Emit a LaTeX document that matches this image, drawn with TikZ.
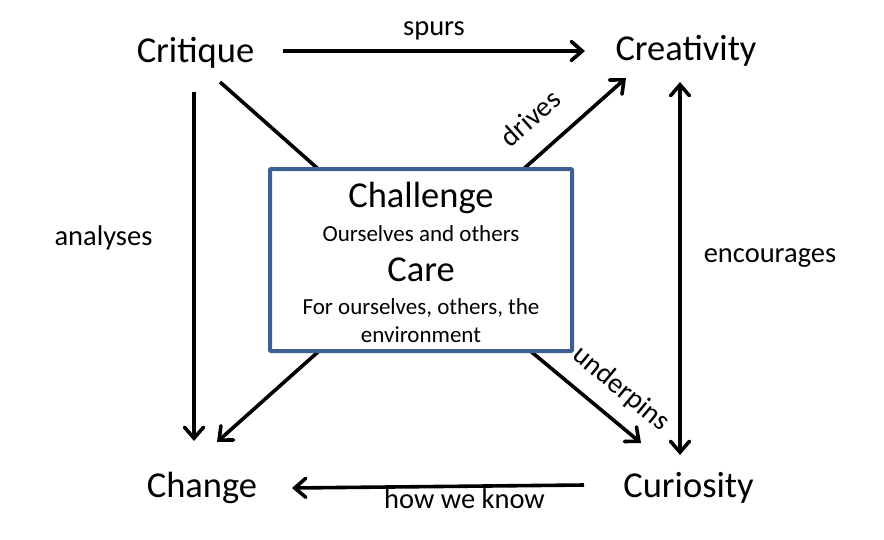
\documentclass[tikz,border=0pt]{standalone}
\usepackage{fontspec}
\setmainfont{Carlito}
\usepackage{xcolor}
\usetikzlibrary{arrows.meta,positioning,calc}

\definecolor{boxblue}{RGB}{60,96,145}

\tikzset{
  barb/.tip={Straight Barb[length=11pt,width=19pt,line cap=round]},
  big/.style={font=\fontsize{36.5}{40}\selectfont,anchor=base,inner sep=0pt},
  small/.style={font=\fontsize{28.5}{32}\selectfont,anchor=base,inner sep=0pt},
  sub/.style={font=\fontsize{23}{26}\selectfont,anchor=base,inner sep=0pt},
  line/.style={line width=3.6pt},
  link/.style={line,-barb},
  hub/.style={draw=boxblue,line width=4pt,fill=white,minimum width=302pt,minimum height=182pt,rounded corners=1pt}
}

\begin{document}
\begin{tikzpicture}[x=10pt,y=-10pt]
    \useasboundingbox (0,0) rectangle (88.4,53.9);

    % Corner ideas
    \node[big] (critique) at (19.55,6.27) {Critique};
    \node[big] (creativity) at (68.6,6.0) {Creativity};
    \node[big] (change) at (20.2,49.7) {Change};
    \node[big] (curiosity) at (68.85,49.7) {Curiosity};

    % Ends of the diagonals
    \coordinate (critique-out) at (22.0,8.2);
    \coordinate (creativity-in) at (62.6,7.8);
    \coordinate (change-in) at (21.7,44.2);
    \coordinate (curiosity-in) at (64.1,44.3);

    % Diagonals through the centre
    \coordinate (mid) at (42.1,26.0);
    \draw[line] (critique-out) -- (mid);
    \draw[link] (mid) -- (creativity-in);
    \draw[link] (mid) -- (change-in);
    \draw[link] (mid) -- (curiosity-in);

    % Centre box
    \node[hub] (centre) at (mid) {};
    \node[big] (challenge) at (42.1,20.7) {Challenge};
    \node[sub] (ourselves) at (42.1,24.1) {Ourselves and others};
    \node[big] (care) at (42.1,28.1) {Care};
    \node[sub] (forall) at (42.1,31.4) {For ourselves, others, the};
    \node[sub] (environment) at (42.1,34.2) {environment};

    % Outer arrows
    \coordinate (spurs-from) at (28.3,5.1);
    \coordinate (spurs-to) at (58.5,5.1);
    \draw[link] (spurs-from) -- (spurs-to);
    \node[small] (spurs) at (43.4,3.5) {spurs};

    \coordinate (analyses-from) at (19.4,9.2);
    \coordinate (analyses-to) at (19.4,44.1);
    \draw[link] (analyses-from) -- (analyses-to);
    \node[small] (analyses) at (10.35,24.5) {analyses};

    \coordinate (enc-top) at (68.0,8.2);
    \coordinate (enc-bottom) at (68.0,45.5);
    \draw[line,barb-barb] (enc-top) -- (enc-bottom);
    \node[small] (encourages) at (77.0,26.2) {encourages};

    \coordinate (know-from) at (58.4,48.5);
    \coordinate (know-to) at (29.2,48.8);
    \draw[link] (know-from) -- (know-to);
    \node[small] (howweknow) at (46.45,50.8) {how we know};

    % Labels on the diagonals
    \node[small,anchor=center,rotate=41.7] (drives) at (53.0,11.8) {drives};
    \node[small,anchor=center,rotate=-39.7] (underpins) at (62.1,38.9) {underpins};
\end{tikzpicture}
\end{document}
